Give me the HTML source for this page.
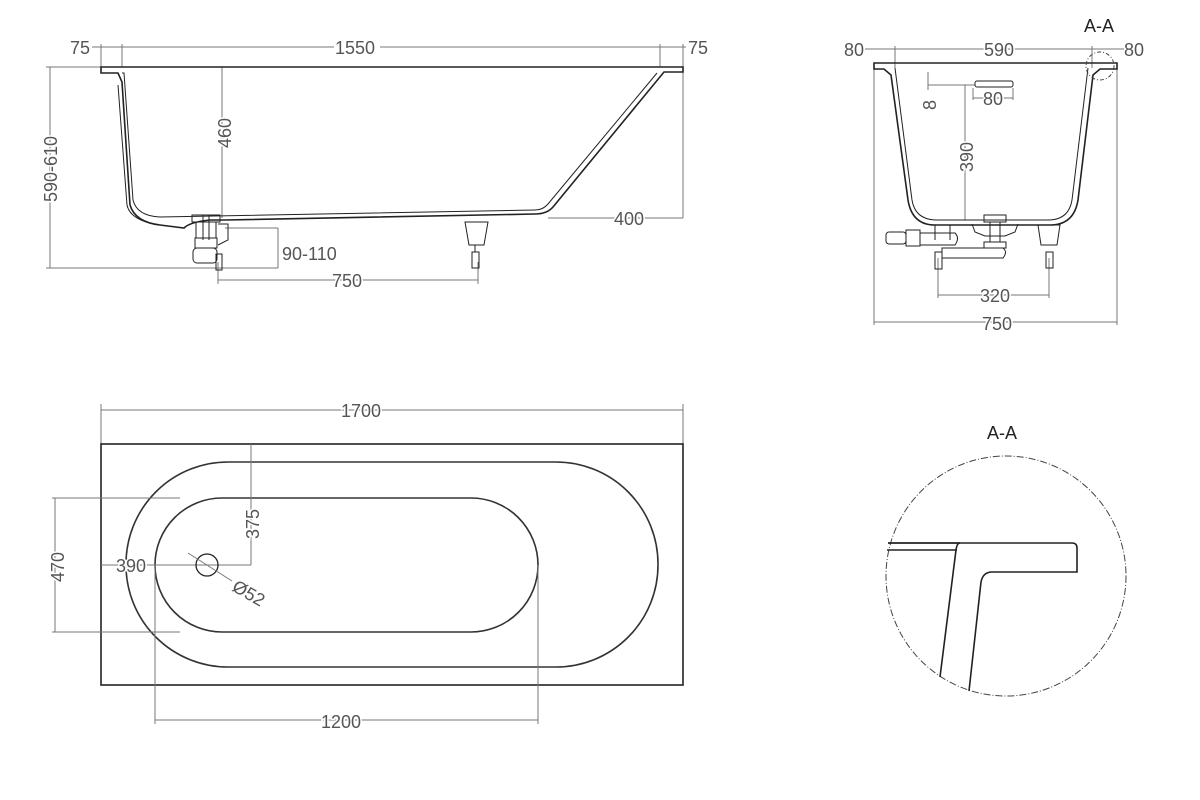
<!DOCTYPE html>
<html><head><meta charset="utf-8"><style>
html,body{margin:0;padding:0;background:#fff;}
svg{display:block;}
text{font-family:"Liberation Sans",sans-serif;font-size:18px;fill:#555;stroke:#fff;stroke-width:3px;paint-order:stroke;}
.d{stroke:#777;stroke-width:1;fill:none;}
.k{stroke:#222;stroke-width:1.6;fill:none;}
.t{stroke:#222;stroke-width:1;fill:none;}
</style></head><body>
<svg width="1200" height="800" viewBox="0 0 1200 800" xmlns="http://www.w3.org/2000/svg">
<rect width="1200" height="800" fill="#fff"/>

<!-- ============ SIDE VIEW ============ -->
<line class="d" x1="92" y1="47" x2="122" y2="47"/>
<line class="d" x1="122" y1="47" x2="334" y2="47"/><line class="d" x1="380" y1="47" x2="660" y2="47"/>
<line class="d" x1="660" y1="47" x2="686" y2="47"/>
<line class="d" x1="101" y1="44" x2="101" y2="67"/>
<line class="d" x1="122" y1="44" x2="122" y2="67"/>
<line class="d" x1="660" y1="44" x2="660" y2="67"/>
<line class="d" x1="683" y1="44" x2="683" y2="218"/>
<text x="70" y="54">75</text>
<text x="335" y="54">1550</text>
<text x="688" y="54">75</text>
<line class="d" x1="50" y1="67" x2="50" y2="268"/>
<line class="d" x1="46" y1="67" x2="101" y2="67"/>
<line class="d" x1="46" y1="268" x2="278" y2="268"/>
<text transform="translate(57,202) rotate(-90)">590-610</text>
<line class="d" x1="222" y1="67" x2="222" y2="218"/>
<text transform="translate(231,148) rotate(-90)">460</text>
<line class="d" x1="548" y1="218" x2="683" y2="218"/>
<text x="614" y="225">400</text>
<line class="d" x1="278" y1="228" x2="278" y2="268"/>
<line class="d" x1="225" y1="228" x2="278" y2="228"/>
<text x="282" y="260">90-110</text>
<line class="d" x1="218" y1="280" x2="478" y2="280"/>
<line class="d" x1="218" y1="262" x2="218" y2="284"/><line class="d" x1="478" y1="262" x2="478" y2="284"/>
<text x="332" y="287">750</text>
<!-- tub -->
<path class="k" d="M101 67 L683 67 L683 72 L664 72 L553 207 Q547 214 535 214 L225 220 L210 220 Q190 222 184 228 L160 225 Q135 222 130 205 L122 82 L118 73 L101 73 Z"/>
<path class="t" d="M122 73 L124 73 L133 200 Q137 216 160 217 L535 210 Q543 210 548 204 L657 73"/>
<path class="t" d="M118 85 L127 205 Q130 220 158 225"/>
<!-- drain -->
<rect class="t" x="192" y="215" width="28" height="7" fill="#fff"/>
<rect class="t" x="196" y="222" width="20" height="16" fill="#fff"/>
<rect class="t" x="195" y="238" width="22" height="10" fill="#fff"/>
<rect class="t" x="193" y="248" width="24" height="15" rx="4" fill="#fff"/>
<rect class="t" x="216" y="254" width="6" height="16" fill="#fff"/>
<path class="t" d="M218 224 L228 224 L228 240 L218 245"/>
<line class="t" x1="203" y1="215" x2="203" y2="240"/><line class="t" x1="209" y1="215" x2="209" y2="240"/>
<!-- leg -->
<path class="t" d="M465 222 L488 222 L484 245 L469 245 Z"/>
<rect class="t" x="472" y="252" width="7" height="16"/>
<line class="t" x1="475" y1="245" x2="475" y2="252"/>

<!-- ============ END VIEW ============ -->
<line class="d" x1="865" y1="49" x2="1124" y2="49"/>
<line class="d" x1="895" y1="46" x2="895" y2="68"/><line class="d" x1="1092" y1="46" x2="1092" y2="68"/>
<text x="844" y="56">80</text>
<text x="984" y="56">590</text>
<text x="1124" y="56">80</text>
<text x="1084" y="32" style="fill:#222;">A-A</text>
<line class="d" x1="874" y1="64" x2="874" y2="325"/><line class="d" x1="1117" y1="64" x2="1117" y2="325"/>
<line class="d" x1="874" y1="322" x2="1117" y2="322"/>
<text x="982" y="330">750</text>
<line class="d" x1="938" y1="258" x2="938" y2="298"/><line class="d" x1="1049" y1="258" x2="1049" y2="298"/>
<line class="d" x1="938" y1="295" x2="1049" y2="295"/>
<text x="980" y="302">320</text>
<line class="d" x1="928" y1="72" x2="928" y2="90"/>
<line class="d" x1="928" y1="85" x2="975" y2="85"/>
<text transform="translate(936,110) rotate(-90)">8</text>
<rect class="t" x="975" y="81" width="38" height="6" rx="2"/>
<line class="d" x1="973" y1="98" x2="1013" y2="98"/>
<line class="d" x1="973" y1="88" x2="973" y2="100"/><line class="d" x1="1013" y1="88" x2="1013" y2="100"/>
<text x="983" y="105">80</text>
<line class="d" x1="965" y1="85" x2="965" y2="220"/>
<text transform="translate(973,172) rotate(-90)">390</text>
<path class="k" d="M874 63 L1117 63 L1117 69 L1100 69 L1093 75 L1078 200 Q1074 225 1050 225 L935 225 Q912 225 908 200 L891 75 L884 69 L874 69 Z"/>
<path class="t" d="M895 68 L912 200 Q915 219 935 220 L1050 220 Q1069 219 1072 200 L1088 68"/>
<circle cx="1100" cy="66" r="14" fill="none" stroke="#444" stroke-width="1" stroke-dasharray="4 2 1 2"/>
<!-- plumbing -->
<rect class="t" x="984" y="215" width="22" height="7" fill="#fff"/>
<path class="t" d="M972 224 L975 232 L985 236 L1005 236 L1015 232 L1018 224"/>
<rect class="t" x="990" y="222" width="10" height="20"/>
<rect class="t" x="984" y="242" width="22" height="6"/>
<path class="t" d="M935 225 L935 240 M950 225 L950 240"/>
<rect class="t" x="886" y="232" width="20" height="12" rx="3"/>
<rect class="t" x="906" y="230" width="14" height="16"/>
<path class="t" d="M920 233 L955 233 Q960 238 955 245 L920 245"/>
<path class="t" d="M942 248 L1003 248 Q1008 252 1003 258 L942 258 Z"/>
<rect class="t" x="935" y="252" width="7" height="17"/>
<path class="t" d="M1038 225 L1060 225 L1057 245 L1041 245 Z"/>
<rect class="t" x="1046" y="252" width="7" height="16"/>

<!-- ============ PLAN VIEW ============ -->
<line class="d" x1="101" y1="410" x2="683" y2="410"/>
<line class="d" x1="101" y1="404" x2="101" y2="444"/><line class="d" x1="683" y1="404" x2="683" y2="444"/>
<text x="341" y="417">1700</text>
<rect x="101" y="444" width="582" height="241" fill="none" stroke="#222" stroke-width="1.6"/>
<rect x="126" y="462" width="532" height="205" rx="102" ry="102" fill="none" stroke="#333" stroke-width="1.6"/>
<rect x="155" y="498" width="383" height="134" rx="67" ry="67" fill="none" stroke="#333" stroke-width="1.6"/>
<line class="d" x1="52" y1="498" x2="180" y2="498"/><line class="d" x1="52" y1="632" x2="180" y2="632"/>
<line class="d" x1="55" y1="498" x2="55" y2="632"/>
<text transform="translate(64,582) rotate(-90)">470</text>
<line class="d" x1="251" y1="444" x2="251" y2="565"/>
<text transform="translate(259,539) rotate(-90)">375</text>
<line class="d" x1="101" y1="565" x2="251" y2="565"/>
<text x="116" y="572">390</text>
<circle cx="207" cy="565" r="11" fill="none" stroke="#222" stroke-width="1.3"/>
<line class="d" x1="188" y1="553" x2="232" y2="581"/>
<text transform="translate(231,590) rotate(30)">Ø52</text>
<line class="d" x1="155" y1="565" x2="155" y2="724"/><line class="d" x1="538" y1="565" x2="538" y2="724"/>
<line class="d" x1="155" y1="720" x2="538" y2="720"/>
<text x="321" y="728">1200</text>

<!-- ============ DETAIL A-A ============ -->
<text x="987" y="439" style="fill:#222;">A-A</text>
<circle cx="1006" cy="576" r="120" fill="none" stroke="#444" stroke-width="1" stroke-dasharray="7 2 1 2"/>
<path class="k" d="M888 543 L1072 543 Q1077 543 1077 548 L1077 572 L992 572 Q983 572 981 582 L969 691"/>
<line class="t" x1="887" y1="550" x2="957" y2="550" style="stroke-width:1.4"/>
<path class="k" d="M888 543 L960 543 Q957 543 956 550 L940 677"/>
</svg>
</body></html>
